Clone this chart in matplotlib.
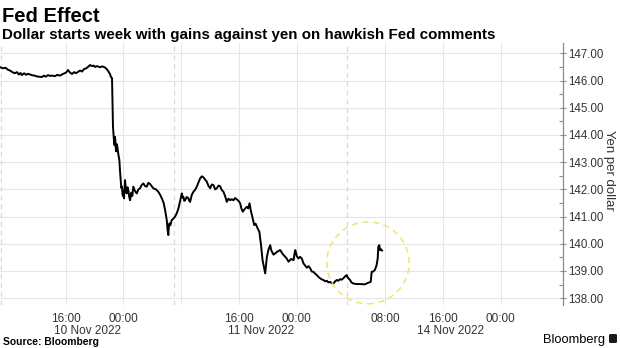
import matplotlib
matplotlib.use("Agg")
import matplotlib.pyplot as plt
from matplotlib.patches import Ellipse, FancyBboxPatch
import pandas as pd

# USD/JPY intraday quotes, Tokyo time, one list per trading day
NOV10_TIMES = [
    "06:54", "07:20", "07:40", "07:59", "08:20", "08:40", "08:58", "09:15",
    "09:30", "09:45", "09:56", "10:15", "10:30", "10:46", "11:05", "11:25",
    "11:44", "12:00", "12:20", "12:42", "13:00", "13:15", "13:32", "13:50",
    "14:10", "14:31", "14:50", "15:10", "15:29", "15:50", "16:05", "16:19",
    "16:35", "16:52", "17:10", "17:25", "17:42", "18:00", "18:15", "18:32",
    "18:50", "19:05", "19:22", "19:40", "19:52", "20:04", "20:20", "20:45",
    "21:05", "21:27", "21:45", "22:00", "22:10", "22:17", "22:25", "22:33",
    "22:37", "22:41", "22:46", "22:50", "22:54", "22:58", "23:04", "23:09",
    "23:17", "23:26", "23:31", "23:37", "23:42", "23:48", "23:52", "23:56",
]
NOV10_YEN = [
    146.49, 146.45, 146.47, 146.40, 146.36, 146.30, 146.27, 146.31,
    146.22, 146.28, 146.20, 146.27, 146.21, 146.25, 146.22, 146.19,
    146.18, 146.15, 146.14, 146.13, 146.18, 146.14, 146.20, 146.17,
    146.18, 146.16, 146.21, 146.18, 146.22, 146.26, 146.30, 146.39,
    146.30, 146.24, 146.31, 146.27, 146.32, 146.37, 146.33, 146.42,
    146.45, 146.50, 146.57, 146.53, 146.55, 146.50, 146.53, 146.49,
    146.52, 146.48, 146.40, 146.30, 146.22, 146.12, 146.09, 144.30,
    144.05, 143.80, 143.62, 143.93, 143.70, 143.40, 143.66, 143.57,
    143.30, 143.08, 142.70, 142.34, 142.05, 142.10, 141.82, 141.75,
]

NOV11_TIMES = [
    "00:02", "00:05", "00:09", "00:13", "00:20", "00:27", "00:34", "00:42",
    "00:48", "00:55", "01:05", "01:14", "01:22", "01:36", "01:50", "02:04",
    "02:18", "02:30", "02:45", "03:00", "03:14", "03:27", "03:41", "03:55",
    "04:08", "04:30", "04:50", "05:05", "05:19", "05:34", "05:46", "06:00",
    "06:06", "06:13", "06:17", "06:22", "06:30", "06:41", "06:55", "07:09",
    "07:23", "07:37", "07:50", "08:05", "08:12", "08:18", "08:25", "08:32",
    "08:46", "09:00", "09:07", "09:14", "09:28", "09:41", "09:55", "10:10",
    "10:23", "10:37", "10:51", "11:05", "11:19", "11:33", "11:47", "12:01",
    "12:14", "12:28", "12:42", "12:56", "13:10", "13:23", "13:37", "13:51",
    "14:05", "14:19", "14:33", "14:47", "15:00", "15:14", "15:28", "15:43",
    "15:56", "16:10", "16:20", "16:32", "16:48", "17:06", "17:17", "17:28",
    "17:37", "17:47", "17:57", "18:07", "18:18", "18:29", "18:40", "18:50",
    "18:56", "19:02", "19:09", "19:16", "19:27", "19:38", "19:45", "19:52",
    "20:06", "20:20", "20:27", "20:34", "20:47", "21:01", "21:22", "21:43",
    "22:04", "22:25", "22:38", "22:52", "23:13", "23:34", "23:41", "23:48",
]
NOV11_YEN = [
    141.95, 141.67, 141.98, 142.34, 142.02, 141.85, 142.08, 141.95,
    141.72, 141.60, 141.88, 141.76, 142.10, 141.94, 141.85, 142.00,
    142.04, 142.15, 142.22, 142.12, 142.10, 142.24, 142.20, 142.12,
    142.04, 142.00, 141.91, 141.80, 141.67, 141.50, 141.24, 140.87,
    140.55, 140.32, 140.62, 140.75, 140.68, 140.87, 140.92, 141.00,
    141.12, 141.30, 141.55, 141.85, 141.70, 141.73, 141.58, 141.60,
    141.72, 141.67, 141.58, 141.54, 141.80, 141.91, 141.98, 142.10,
    142.25, 142.40, 142.48, 142.44, 142.36, 142.28, 142.12, 142.04,
    142.18, 142.16, 142.00, 142.04, 142.14, 142.12, 141.98, 141.91,
    141.75, 141.54, 141.66, 141.60, 141.64, 141.60, 141.68, 141.63,
    141.58, 141.49, 141.30, 141.18, 141.28, 141.36, 141.30, 141.49,
    141.25, 141.06, 140.88, 140.69, 140.74, 140.63, 140.52, 140.44,
    140.20, 140.01, 139.70, 139.40, 139.15, 138.91, 139.20, 139.52,
    139.80, 139.95, 139.78, 139.71, 139.60, 139.65, 139.72, 139.77,
    139.62, 139.52, 139.45, 139.34, 139.44, 139.40, 139.62, 139.77,
]

NOV12_TIMES = [
    "00:00", "00:14", "00:28", "00:42", "00:56", "01:10", "01:24", "01:38",
    "01:52", "02:05", "02:19", "02:33", "02:47", "03:01", "03:15", "03:28",
    "03:42", "03:56", "04:10", "04:23", "04:37", "04:51", "05:05", "05:19",
    "05:33", "05:46", "06:00", "06:14", "06:27", "06:41", "06:56", "07:00",
]
NOV12_YEN = [
    139.55, 139.46, 139.52, 139.46, 139.28, 139.20, 139.12, 139.18,
    139.10, 138.98, 138.97, 138.90, 138.85, 138.78, 138.73, 138.69,
    138.67, 138.62, 138.64, 138.58, 138.60, 138.55, 138.54, 138.62,
    138.67, 138.64, 138.70, 138.68, 138.73, 138.80, 138.85, 138.81,
]

NOV14_TIMES = [
    "02:45", "03:08", "03:20", "03:35", "04:04", "04:31", "05:12", "05:40",
    "06:00", "06:04", "06:08", "06:20", "06:35", "06:49", "06:58", "07:03",
    "07:11", "07:17", "07:25", "07:34",
]
NOV14_YEN = [
    138.78, 138.67, 138.58, 138.54, 138.52, 138.52, 138.51, 138.57,
    138.60, 138.80, 138.97, 138.98, 139.04, 139.22, 139.46, 139.89,
    139.95, 139.77, 139.80, 139.75,
]

# weekend gap that gets squeezed out of the time axis
FRIDAY_CLOSE = "2022-11-12 07:00"
MONDAY_OPEN = "2022-11-14 02:45"

GRID_TIMES = [
    "2022-11-10 16:00", "2022-11-11 00:00", "2022-11-11 08:00",
    "2022-11-11 16:00", "2022-11-12 00:00", "2022-11-14 08:00",
    "2022-11-14 16:00", "2022-11-15 00:00",
]
GRID_LABELS = ["16:00", "00:00", "", "16:00", "00:00", "08:00", "16:00", "00:00"]

DATE_TIMES = ["2022-11-10 19:00", "2022-11-11 19:00", "2022-11-14 17:00"]
DATE_LABELS = ["10 Nov 2022", "11 Nov 2022", "14 Nov 2022"]

SESSION_BREAKS = ["2022-11-10 07:00", "2022-11-11 07:00", FRIDAY_CLOSE]

X_START = "2022-11-10 06:54"
X_END = "2022-11-15 08:38"

Y_TICKS = [138, 139, 140, 141, 142, 143, 144, 145, 146, 147]

HIGHLIGHT_TIME = "2022-11-14 05:37"
HIGHLIGHT_LEVEL = 139.30

FONT = "Liberation Sans"
TEXT = "#333333"
GRID = "#e6e6e6"


def to_axis(stamp):

    ts = pd.Timestamp(stamp)
    origin = pd.Timestamp("2022-11-10 00:00")

    hours = (ts - origin).total_seconds() / 3600

    if ts >= pd.Timestamp(MONDAY_OPEN):
        gap = pd.Timestamp(MONDAY_OPEN) - pd.Timestamp(FRIDAY_CLOSE)
        hours -= gap.total_seconds() / 3600

    return hours


def build_series():

    days = [
        ("2022-11-10", NOV10_TIMES, NOV10_YEN),
        ("2022-11-11", NOV11_TIMES, NOV11_YEN),
        ("2022-11-12", NOV12_TIMES, NOV12_YEN),
        ("2022-11-14", NOV14_TIMES, NOV14_YEN),
    ]

    frames = []

    for day, times, values in days:
        frames.append(pd.DataFrame({
            "stamp": [f"{day} {t}" for t in times],
            "yen": values,
        }))

    df = pd.concat(frames, ignore_index=True)
    df["x"] = df["stamp"].map(to_axis)

    return df


def draw_chart(df):

    fig = plt.figure(figsize=(6.2, 3.48), dpi=100)

    ax = fig.add_axes([0.0, 1 - 305 / 348, 563 / 620, (305 - 43) / 348])

    # horizontal grid
    for level in Y_TICKS:
        ax.axhline(level, color=GRID, linewidth=0.8, zorder=0)

    # vertical grid at the 8-hour marks
    for stamp in GRID_TIMES:
        ax.axvline(to_axis(stamp), color=GRID, linewidth=0.8, zorder=0)

    # session breaks
    for stamp in SESSION_BREAKS:
        ax.axvline(
            to_axis(stamp),
            color="#d9d9d9",
            linewidth=0.9,
            linestyle=(0, (4, 3)),
            zorder=0
        )

    ax.plot(df["x"], df["yen"], color="black", linewidth=1.4, zorder=3)

    circle = Ellipse(
        (to_axis(HIGHLIGHT_TIME), HIGHLIGHT_LEVEL),
        width=11.4,
        height=3.01,
        fill=False,
        edgecolor="#f0e46e",
        linewidth=1.1,
        linestyle=(0, (4, 3)),
        zorder=4
    )
    ax.add_patch(circle)

    ax.set_xlim(to_axis(X_START), to_axis(X_END))
    ax.set_ylim(137.75, 147.38)

    for side in ["top", "left", "bottom"]:
        ax.spines[side].set_visible(False)

    ax.spines["right"].set_color("#8c8c8c")
    ax.spines["right"].set_linewidth(0.9)

    ax.yaxis.tick_right()
    ax.set_yticks(Y_TICKS)
    ax.set_yticklabels([f"{v:.2f}" for v in Y_TICKS])
    ax.set_yticks([v + 0.5 for v in Y_TICKS[:-1]], minor=True)

    ax.tick_params(
        axis="y", which="major", direction="inout", length=5,
        width=0.8, color="#8c8c8c", pad=1.5, labelsize=8.3,
        labelcolor=TEXT
    )
    ax.tick_params(
        axis="y", which="minor", direction="in", length=3,
        width=0.8, color="#8c8c8c"
    )

    ax.set_xticks([to_axis(s) for s in GRID_TIMES])
    ax.set_xticklabels(GRID_LABELS)
    ax.set_xticks([to_axis(s) for s in DATE_TIMES], minor=True)
    ax.set_xticklabels(DATE_LABELS, minor=True)

    ax.tick_params(
        axis="x", which="major", length=0, pad=6,
        labelsize=8.5, labelcolor=TEXT
    )
    ax.tick_params(
        axis="x", which="minor", length=0, pad=14.5,
        labelsize=8.5, labelcolor=TEXT
    )

    for label in ax.get_xticklabels(which="both") + ax.get_yticklabels():
        label.set_fontfamily(FONT)

    fig.text(
        609 / 620, 1 - 170 / 348, "Yen per dollar",
        rotation=-90, ha="center", va="center",
        fontsize=9.5, color=TEXT, family=FONT
    )

    fig.text(
        2 / 620, 1 - 21.5 / 348, "Fed Effect",
        fontsize=14.5, fontweight="bold", family=FONT,
        va="baseline", color="black"
    )
    fig.text(
        2 / 620, 1 - 38.5 / 348,
        "Dollar starts week with gains against yen on hawkish Fed comments",
        fontsize=10.9, fontweight="bold", family=FONT,
        va="baseline", color="black"
    )

    fig.text(
        3 / 620, 1 - 345 / 348, "Source: Bloomberg",
        fontsize=7.4, fontweight="bold", family=FONT,
        va="baseline", color="black"
    )
    fig.text(
        605 / 620, 1 - 342.5 / 348, "Bloomberg",
        fontsize=9.3, family=FONT, ha="right",
        va="baseline", color="black"
    )

    badge = FancyBboxPatch(
        (609 / 620, 1 - 343 / 348), 8 / 620, 9 / 348,
        boxstyle="round,pad=0,rounding_size=0.003",
        transform=fig.transFigure,
        facecolor="#1a1a1a",
        edgecolor="none"
    )
    fig.patches.append(badge)

    fig.savefig("out.png", dpi=100)

    plt.close(fig)


def main():

    df = build_series()

    draw_chart(df)


if __name__ == "__main__":

    main()
